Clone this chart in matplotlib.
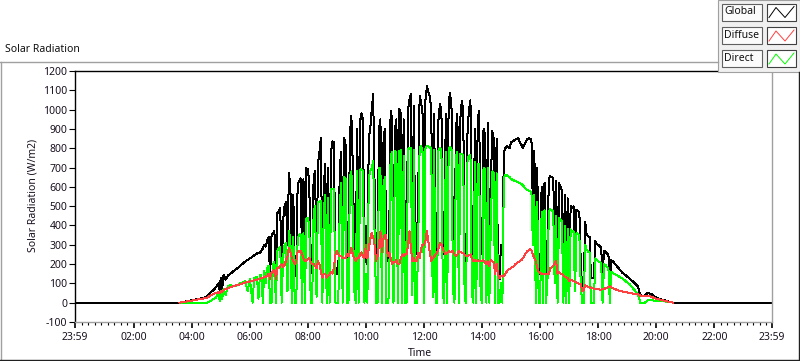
import numpy as np
import matplotlib
matplotlib.use("Agg")
import matplotlib.pyplot as plt
from matplotlib.patches import Rectangle
from matplotlib.lines import Line2D

plt.rcParams['font.family'] = ['Noto Sans', 'DejaVu Sans']

# ---------------- data ----------------
# Global is logged all day; Diffuse and Direct only from 03:35 to 20:35
global_pre_times = ["00:00"]
global_pre = [0]
pre_times = ["03:35", "03:45", "04:00", "04:15", "04:25", "04:30", "04:35", "04:40",
             "04:45", "04:50", "04:55", "04:58", "05:00", "05:03", "05:06", "05:10", "05:15",
             "05:20", "05:30", "05:40", "05:50", "05:56"]
pre_global = [0, 5, 12, 20, 25, 30, 40, 55, 65, 80, 100, 60, 130, 70, 145, 120, 140, 150, 170, 190, 212, 222]
pre_diffuse = [0, 5, 10, 18, 22, 22, 30, 40, 45, 50, 55, 48, 60, 55, 65, 70, 75, 80, 88, 95, 103, 108]
pre_direct = [0, 0, 0, 0, 0, 0, 2, 10, 20, 25, 50, 10, 60, 20, 70, 40, 85, 90, 85, 100, 110, 60]

# 3-minute samples 06:00 ... 18:30
grid_start_min = 360
grid_step_min = 3
day_global = [
    230, 234, 240, 245, 250, 255, 260, 258, 270, 280, 300, 290, 320, 340, 130, 345, 360, 370, 125, 463,      # 06
    470, 490, 150, 430, 500, 520, 300, 670, 600, 160, 560, 140, 150, 615, 630, 645, 250, 640, 160, 697,      # 07
    690, 620, 153, 200, 650, 680, 180, 720, 780, 852, 140, 600, 717, 160, 700, 150, 780, 836, 830, 146,      # 08
    180, 146, 700, 780, 150, 852, 820, 200, 189, 880, 966, 700, 300, 215, 900, 250, 940, 981, 950, 200,      # 09
    400, 200, 850, 900, 1000, 1080, 600, 215, 250, 900, 950, 250, 820, 900, 260, 215, 300, 992, 960, 200,    # 10
    900, 950, 230, 1002, 980, 200, 950, 230, 230, 1000, 1050, 1080, 300, 1020, 250, 250, 560, 1070, 1040, 980,  # 11
    250, 1050, 1120, 1090, 1070, 1000, 300, 980, 230, 250, 950, 1028, 1000, 300, 250, 980, 200, 1050, 1085, 1000,  # 12
    300, 200, 900, 980, 200, 950, 1044, 1000, 250, 150, 900, 1000, 1049, 300, 180, 900, 200, 950, 992, 300,  # 13
    250, 900, 870, 200, 930, 150, 600, 888, 850, 100, 850, 146, 120, 300, 250, 780, 800, 810, 805, 800,      # 14
    830, 835, 840, 845, 850, 852, 830, 820, 800, 815, 830, 845, 852, 850, 845, 500, 785, 200, 700, 150,      # 15
    146, 600, 150, 620, 160, 300, 640, 655, 650, 645, 300, 630, 120, 620, 600, 580, 140, 560, 130, 540,      # 16
    130, 500, 490, 500, 200, 480, 475, 470, 200, 60, 70, 420, 355, 345, 340, 127, 130, 125, 320, 305,        # 17
    300, 293, 285, 140, 270, 262, 255, 250, 75, 220, 215]                                                    # 18
day_diffuse = [
    110, 112, 114, 116, 118, 120, 122, 124, 126, 128, 132, 135, 140, 150, 125, 155, 160, 170, 122, 180,
    180, 190, 200, 185, 195, 220, 240, 282, 260, 230, 215, 200, 210, 267, 260, 270, 250, 230, 215, 220,
    225, 230, 210, 200, 200, 190, 180, 215, 200, 160, 130, 150, 150, 130, 140, 146, 160, 150, 180, 250,
    270, 250, 240, 240, 230, 230, 230, 250, 240, 260, 283, 250, 230, 215, 230, 230, 250, 260, 240, 230,
    300, 230, 280, 330, 360, 340, 300, 215, 240, 300, 370, 260, 330, 350, 350, 240, 260, 230, 200, 210,
    210, 220, 200, 200, 230, 250, 240, 250, 250, 300, 370, 280, 215, 230, 215, 215, 260, 230, 280, 300,
    300, 320, 370, 320, 260, 215, 230, 240, 250, 260, 280, 308, 300, 280, 260, 250, 260, 267, 260, 265,
    267, 250, 240, 250, 267, 260, 260, 255, 250, 240, 240, 245, 250, 230, 215, 220, 215, 220, 215, 215,
    215, 220, 210, 200, 215, 190, 220, 215, 210, 150, 200, 146, 127, 140, 135, 137, 150, 160, 170, 175,
    180, 185, 190, 200, 205, 210, 215, 220, 230, 240, 255, 265, 270, 276, 270, 250, 230, 215, 180, 160,
    153, 150, 150, 146, 148, 146, 150, 178, 185, 190, 205, 215, 150, 160, 150, 148, 140, 135, 130, 127,
    110, 120, 115, 112, 108, 105, 101, 98, 95, 60, 65, 90, 85, 82, 80, 75, 75, 72, 72, 70,
    70, 68, 68, 70, 70, 75, 78, 80, 85, 80, 75]
day_direct = [
    125, 60, 0, 128, 130, 135, 20, 140, 145, 0, 165, 100, 180, 190, 0, 0, 200, 210, 0, 270,
    280, 290, 0, 240, 300, 310, 60, 370, 320, 0, 340, 0, 0, 330, 350, 355, 0, 360, 0, 437,
    440, 400, 0, 0, 470, 500, 30, 520, 525, 525, 0, 480, 560, 0, 540, 0, 587, 590, 590, 0,
    0, 0, 500, 620, 0, 653, 640, 0, 0, 650, 680, 450, 60, 0, 680, 0, 690, 690, 680, 0,
    150, 0, 650, 680, 700, 733, 350, 0, 0, 700, 700, 0, 600, 650, 0, 0, 40, 760, 780, 0,
    785, 780, 0, 785, 790, 0, 760, 0, 0, 795, 800, 800, 40, 790, 0, 0, 300, 805, 810, 780,
    0, 800, 810, 810, 805, 800, 30, 790, 0, 0, 790, 800, 795, 40, 0, 780, 0, 800, 805, 790,
    60, 0, 760, 780, 0, 770, 770, 765, 20, 0, 750, 760, 767, 50, 0, 730, 0, 720, 715, 30,
    0, 700, 690, 0, 700, 0, 400, 680, 670, 0, 670, 0, 0, 100, 0, 650, 660, 660, 655, 650,
    640, 637, 633, 630, 626, 622, 620, 615, 608, 600, 590, 585, 580, 577, 570, 300, 560, 0, 520, 0,
    0, 470, 0, 480, 0, 100, 470, 484, 480, 470, 100, 448, 0, 440, 430, 420, 0, 400, 0, 380,
    0, 380, 370, 368, 60, 360, 355, 350, 80, 0, 0, 300, 275, 265, 260, 0, 0, 0, 230, 220,
    215, 210, 205, 0, 200, 195, 185, 180, 0, 160, 153]

post_times = ["18:40", "18:50", "19:05", "19:22", "19:27", "19:36", "19:42", "19:50", "20:00",
              "20:20", "20:35"]
post_global = [185, 155, 125, 85, 38, 35, 50, 45, 25, 10, 0]
post_diffuse = [65, 58, 50, 44, 36, 34, 36, 30, 20, 8, 0]
post_direct = [140, 125, 95, 44, 0, 0, 12, 12, 10, 6, 0]
global_post_times = ["23:59"]
global_post = [0]

series_names = ["Global", "Diffuse", "Direct"]
series_colors = ["#000000", "#ff4040", "#00ff00"]

x_tick_labels = ["23:59", "02:00", "04:00", "06:00", "08:00", "10:00", "12:00",
                 "14:00", "16:00", "18:00", "20:00", "22:00", "23:59"]
y_ticks = list(range(-100, 1201, 100))


def hm(s):
    h, m = s.split(":")
    return int(h) + int(m) / 60.0


def hours(lst):
    return [hm(s) for s in lst]


grid_hours = (grid_start_min + grid_step_min * np.arange(len(day_global))) / 60.0
t_sensor = np.concatenate([hours(pre_times), grid_hours, hours(post_times)])
t_global = np.concatenate([hours(global_pre_times), t_sensor, hours(global_post_times)])
g = np.concatenate([global_pre, pre_global, day_global, post_global, global_post])
f = np.concatenate([pre_diffuse, day_diffuse, post_diffuse])
d = np.concatenate([pre_direct, day_direct, post_direct])

# ---------------- figure ----------------
W, H = 800, 361
fig = plt.figure(figsize=(W / 100, H / 100), dpi=100)
fig.patch.set_facecolor("white")


def fx(x):
    return x / W


def fy(y):
    return 1 - y / H


ax = fig.add_axes([fx(75), fy(322), fx(772) - fx(75), fy(71) - fy(322)])
lw = 0.72
ax.plot(t_global, g, color=series_colors[0], lw=lw, antialiased=False)
ax.plot(t_sensor, d, color=series_colors[2], lw=lw, antialiased=False)
ax.plot(t_sensor, f, color=series_colors[1], lw=lw, antialiased=False)

x0 = -1 / 60
ax.set_xlim(x0, 24 + x0)
ax.set_ylim(-100, 1200)
ax.set_yticks(y_ticks)
ax.set_yticklabels([str(v) for v in y_ticks])
major_x = [x0] + list(range(2, 23, 2)) + [24 + x0]
ax.set_xticks(major_x)
ax.set_xticklabels(x_tick_labels)
minor_x = []
for k in range(12):
    a = 2 * k
    for j in range(1, 9):
        minor_x.append(a + j * 2 / 9)
ax.set_xticks(minor_x, minor=True)

for s in ["top", "left"]:
    ax.spines[s].set_color("black")
    ax.spines[s].set_linewidth(1.0)
for s in ["right", "bottom"]:
    ax.spines[s].set_color("#a0a0a0")
    ax.spines[s].set_linewidth(1.0)

ax.tick_params(axis="y", which="major", direction="out", length=4, width=0.8,
               labelsize=7.5, pad=1.5, colors="black", labelcolor="#1a1020")
ax.tick_params(axis="x", which="major", direction="out", length=4.5, width=1.2,
               labelsize=7.5, pad=2.5, colors="black", labelcolor="#1a1020")
ax.tick_params(axis="x", which="minor", direction="out", length=2.2, width=0.8, colors="black")

# texts
fig.text(fx(5), fy(50), "Solar Radiation", fontsize=7.5, va="center", ha="left", color="#101010")
fig.text(fx(33), fy(195), "Solar Radiation (W/m2)", fontsize=7.5, rotation=90,
         va="center", ha="center", color="#1a1020")
fig.text(fx(420), fy(354), "Time", fontsize=7.5, va="center", ha="center", color="#1a1020")


def fline(xs, ys, color, lwid=1.0):
    fig.add_artist(Line2D([fx(v) for v in xs], [fy(v) for v in ys], color=color,
                          lw=lwid, transform=fig.transFigure))


# outer frame
fline([0, 718], [62, 62], "#a0a0a0")
fline([0.5, 0.5], [62, 361], "#a0a0a0")
fline([0, 800], [360, 360], "#202020")
fline([799, 799], [72, 361], "#202020")

# legend panel
fig.add_artist(Rectangle((fx(718), fy(72)), fx(800) - fx(718), fy(0) - fy(72),
                         transform=fig.transFigure, facecolor="#f0f0f0",
                         edgecolor="#a0a0a0", lw=0.8))
box_tops = [3.5, 27, 50]
for name, col, top in zip(series_names, series_colors, box_tops):
    bot = top + 17
    fig.add_artist(Rectangle((fx(722), fy(bot)), fx(762) - fx(722), fy(top) - fy(bot),
                             transform=fig.transFigure, facecolor="#fbfbfb",
                             edgecolor="#606060", lw=0.8))
    fig.text(fx(724), fy((top + bot) / 2), name, fontsize=7.5, va="center", ha="left",
             color="#101010")
    fig.add_artist(Rectangle((fx(767), fy(bot)), fx(796) - fx(767), fy(top) - fy(bot),
                             transform=fig.transFigure, facecolor="white",
                             edgecolor="#404040", lw=0.8))
    sx = [769, 776, 785, 794]
    sy = [bot - 3, top + 4, bot - 3, top + 3]
    fline(sx, sy, col, 0.7)

fig.savefig("out.png", dpi=100)
